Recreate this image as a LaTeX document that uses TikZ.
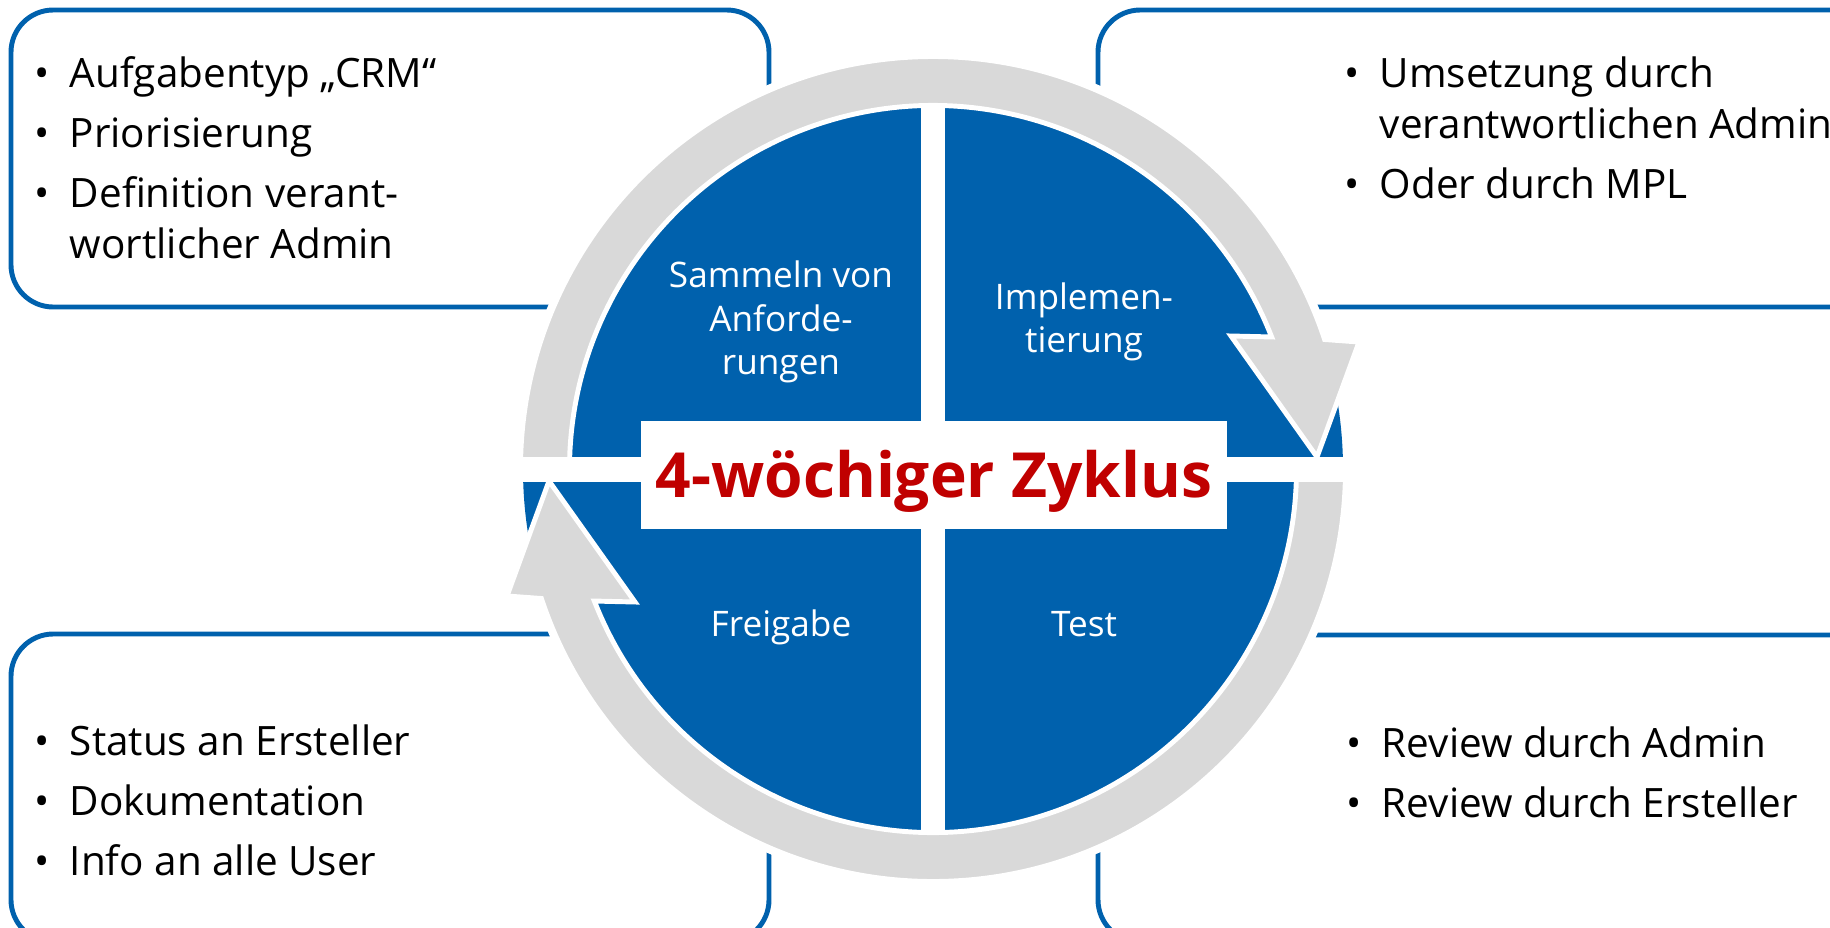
\documentclass[tikz,border=0pt]{standalone}
\usepackage{fontspec}
\setmainfont{Open Sans}
\usepackage{tikz}
\definecolor{cycblue}{RGB}{0,97,173}
\definecolor{ringgray}{RGB}{217,217,217}
\definecolor{titlered}{RGB}{192,0,0}
\newcommand{\bul}{\makebox[10pt][l]{\textbullet}}
\tikzset{
  infobox/.style={draw=cycblue, line width=1.4pt, rounded corners=12pt},
  itemtxt/.style={anchor=base west, inner sep=0pt, font=\fontsize{11.5}{14.6}\selectfont},
  quadtxt/.style={text=white, align=center, inner sep=0pt, font=\fontsize{10}{12.4}\selectfont},
  ringarrow/.style={fill=ringgray, draw=white, line width=1.4pt, line join=miter},
}

\begin{document}
\begin{tikzpicture}[x=0.01cm, y=0.01cm]
  \useasboundingbox (0,0) rectangle (1830,-927);
  \clip (0,0) rectangle (1830,-927);

  % corner boxes, partly hidden behind the ring
  \draw[infobox] (11,-10) rectangle (769,-307);
  \draw[infobox] (1098,-10) rectangle (1872,-307);
  \draw[infobox] (11,-634) rectangle (769,-942);
  \draw[infobox] (1098,-635) rectangle (1872,-942);

  \begin{scope}[shift={(933,-469)}]
    \fill[white] (0,0) circle[radius=418];
    \fill[cycblue] (0,0) circle[radius=410];
    \fill[white] (-12,-415) rectangle (12,415);
    % the two halves of the circular arrow
    \foreach \rot in {0,180} {
      \path[ringarrow, rotate=\rot] (181:412.5) arc[start angle=181, end angle=18.3, radius=412.5]
        -- (426,127) -- (384,12) -- (298,133)
        -- (21.3:363.5) arc[start angle=21.3, end angle=181, radius=363.5] -- cycle;
    }
    \fill[white] (-425,-13) rectangle (425,12);

    \node (ttl) [fill=white, minimum width=5.86cm, minimum height=1.08cm, text height=0.45cm,
      text depth=0pt, inner sep=0pt, text=titlered, font=\fontsize{17.7}{22}\selectfont\bfseries]
      at (1,-6) {4-wöchiger Zyklus};
    \node (qSammeln) [quadtxt] at (-152,147) {Sammeln von\\Anforde-\\rungen};
    \node (qImpl) [quadtxt] at (151,147) {Implemen-\\tierung};
    \node (qFrei) [quadtxt, anchor=base] at (-152,-167) {Freigabe};
    \node (qTest) [quadtxt, anchor=base] at (151,-167) {Test};
  \end{scope}

  % bullet lists
  \node (txtTL) [itemtxt] at (34,-87) {\begin{tabular}[t]{@{}l@{}l@{}}
      \bul & Aufgabentyp „CRM“\\[2.5pt]
      \bul & Priorisierung\\[2.5pt]
      \bul & Definition verant-\\
           & wortlicher Admin
    \end{tabular}};
  \node (txtTR) [itemtxt] at (1344,-87) {\begin{tabular}[t]{@{}l@{}l@{}}
      \bul & Umsetzung durch\\
           & verantwortlichen Admin\\[2.5pt]
      \bul & Oder durch MPL
    \end{tabular}};
  \node (txtBL) [itemtxt] at (34,-755) {\begin{tabular}[t]{@{}l@{}l@{}}
      \bul & Status an Ersteller\\[2.5pt]
      \bul & Dokumentation\\[2.5pt]
      \bul & Info an alle User
    \end{tabular}};
  \node (txtBR) [itemtxt] at (1346,-757) {\begin{tabular}[t]{@{}l@{}l@{}}
      \bul & Review durch Admin\\[2.5pt]
      \bul & Review durch Ersteller
    \end{tabular}};
\end{tikzpicture}
\end{document}
